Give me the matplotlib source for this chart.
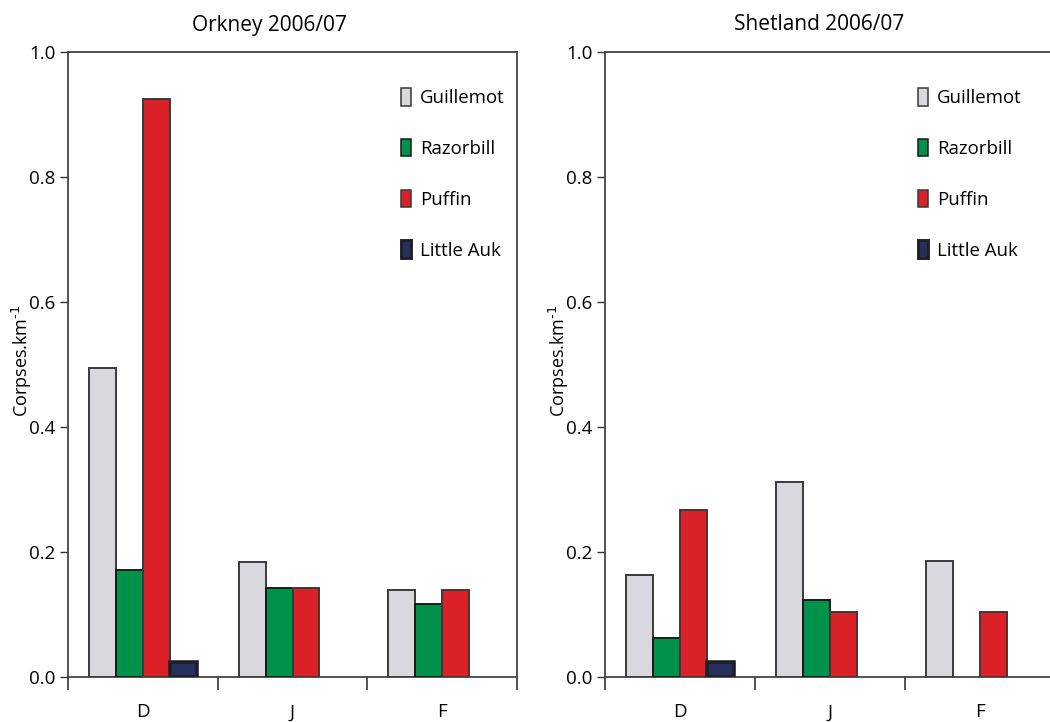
import numpy as np
import matplotlib
matplotlib.use('Agg')
import matplotlib.pyplot as plt
from matplotlib.patches import Patch

# month categories and species
months = ['D', 'J', 'F']
species = ['Guillemot', 'Razorbill', 'Puffin', 'Little Auk']

# corpses per km, one list per species (D, J, F)
orkney_guillemot = [0.494, 0.184, 0.139]
orkney_razorbill = [0.171, 0.143, 0.117]
orkney_puffin = [0.925, 0.143, 0.139]
orkney_little_auk = [0.024, 0.0, 0.0]

shetland_guillemot = [0.164, 0.312, 0.186]
shetland_razorbill = [0.063, 0.123, 0.0]
shetland_puffin = [0.268, 0.104, 0.104]
shetland_little_auk = [0.024, 0.0, 0.0]

yticks = [0.0, 0.2, 0.4, 0.6, 0.8, 1.0]

fills = ['#d9d8df', '#00914a', '#da2128', '#25305c']
edges = ['#3a3a3a', '#1a1a1a', '#3a3a3a', '#1f1f26']
widths = [1.4, 1.4, 1.4, 2.6]

plt.rcParams['font.family'] = ['Open Sans', 'DejaVu Sans']
plt.rcParams['font.size'] = 11

fig = plt.figure(figsize=(10.5, 7.22), dpi=100)
ax1 = fig.add_axes([68 / 1050, 45 / 722, 449 / 1050, 625 / 722])
ax2 = fig.add_axes([605 / 1050, 45 / 722, 450 / 1050, 625 / 722])

bw = 0.18
x = np.arange(len(months))


def draw(ax, series, title, title_x, leg_x, right_spine):
    for i, vals in enumerate(series):
        offs = (i - 1.5) * bw
        for xi, v in zip(x, vals):
            if v > 0:
                ax.bar(xi + offs, v, width=bw, color=fills[i],
                       edgecolor=edges[i], linewidth=widths[i], zorder=3)
    ax.set_xlim(-0.5, 2.5)
    ax.set_ylim(0, 1.0)
    ax.set_yticks(yticks)
    ax.set_yticklabels(['%.1f' % t for t in yticks], fontsize=13.5)
    ax.set_xticks([-0.5, 0.5, 1.5, 2.5])
    ax.set_xticklabels([])
    ax.set_xticks(x, minor=True)
    ax.set_xticklabels(months, minor=True, fontsize=13.5)
    ax.tick_params(axis='x', which='major', direction='out', length=9,
                   width=1.2, color='#333333')
    ax.tick_params(axis='x', which='minor', length=0, pad=19)
    ax.tick_params(axis='y', direction='out', length=6, width=1.0,
                   color='#333333', pad=3)
    for s in ax.spines.values():
        s.set_color('#444444')
        s.set_linewidth(1.3)
    ax.spines['right'].set_visible(right_spine)
    # label sits just left of the tick labels
    ax.set_ylabel('Corpses.km$^{\\text{-1}}$', fontsize=13)
    ax.yaxis.set_label_coords(-0.076, 0.505)
    fig.text(title_x, 1 - 25 / 722, title, ha='center', va='center',
             fontsize=15)
    handles = [Patch(facecolor=fills[i], edgecolor=edges[i],
                     linewidth=widths[i] * 0.8) for i in range(4)]
    ax.legend(handles, species, loc='upper left',
              bbox_to_anchor=(leg_x, 0.942), frameon=False, fontsize=13.4,
              handlelength=0.55, handleheight=1.07, handletextpad=0.45,
              labelspacing=1.7, borderpad=0, borderaxespad=0)


draw(ax1, [orkney_guillemot, orkney_razorbill, orkney_puffin,
           orkney_little_auk],
     'Orkney 2006/07', 269 / 1050, 0.742, True)
draw(ax2, [shetland_guillemot, shetland_razorbill, shetland_puffin,
           shetland_little_auk],
     'Shetland 2006/07', 819 / 1050, 0.696, False)

fig.savefig('out.png', dpi=100)
